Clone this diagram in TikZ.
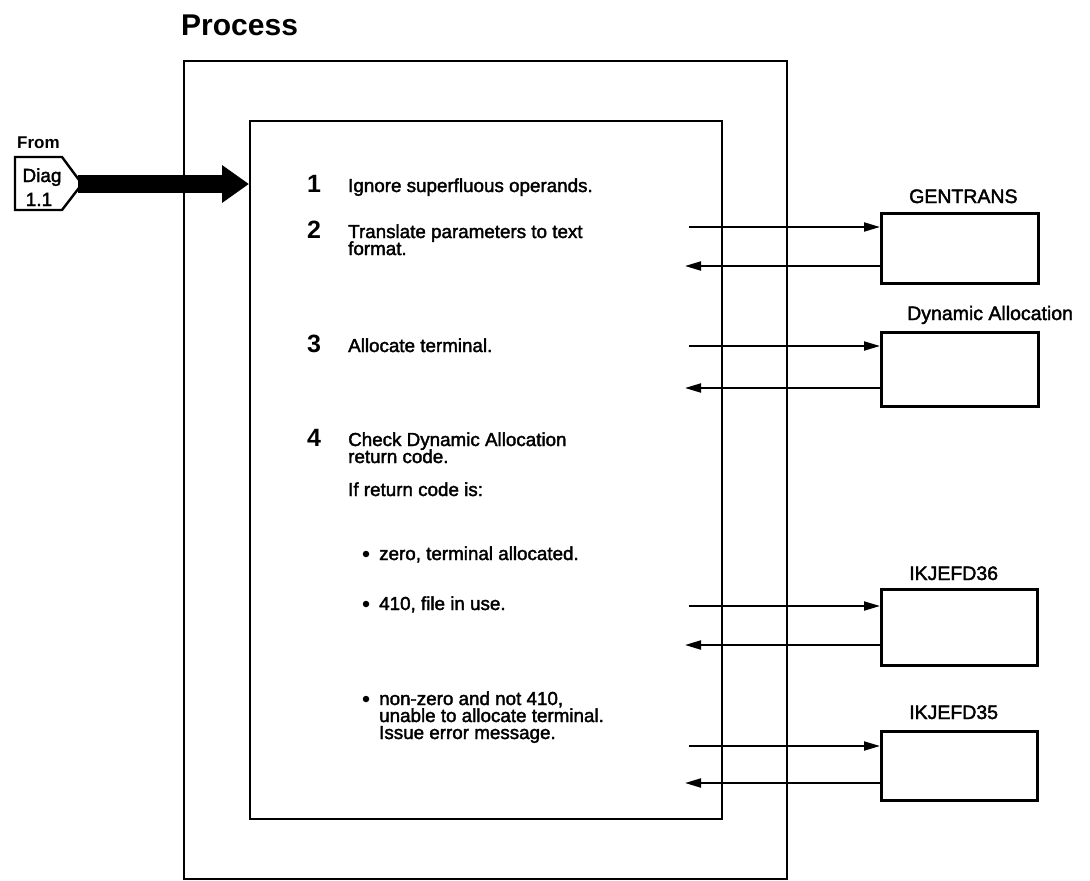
\documentclass[tikz,border=0pt]{standalone}
\usepackage{fontspec}
\setmainfont{Liberation Sans}
\newfontfamily\bodyfont{Liberation Sans}[FakeBold=2]
\usetikzlibrary{arrows.meta}

\tikzset{
  frame/.style={draw, line width=2.4pt, inner sep=0pt},
  modbox/.style={draw, line width=2.6pt, inner sep=0pt, anchor=north west},
  bodytext/.style={font=\bodyfont\fontsize{18.8}{22}\selectfont, anchor=base west, inner sep=0pt},
  stepnum/.style={font=\bfseries\fontsize{25}{28}\selectfont, anchor=base west, inner sep=0pt},
  modlabel/.style={font=\bodyfont\fontsize{19.5}{22}\selectfont, anchor=base west, inner sep=0pt},
  flow/.style={line width=2pt, -{Triangle[length=16pt,width=9pt]}},
  bigflow/.style={line width=18pt, -{Triangle[length=27pt,width=36pt]}},
  dot/.style={circle, fill, inner sep=0pt, minimum size=6.5pt}
}

\begin{document}
\begin{tikzpicture}[x=1pt,y=-1pt]
\useasboundingbox (0,0) rectangle (1090,881);

% heading
\node[font=\bfseries\fontsize{30}{32}\selectfont, anchor=base west, inner sep=0pt] (title) at (181,35) {Process};

% outer and inner process frames
\node[frame, anchor=north west, minimum width=603pt, minimum height=818pt] (outer) at (183,60) {};
\node[frame, anchor=north west, minimum width=472pt, minimum height=698pt] (inner) at (249,120) {};

% off-page connector
\node[font=\bfseries\fontsize{17}{20}\selectfont, anchor=base west, inner sep=0pt] (fromlbl) at (17,148) {From};
\draw[line width=2.4pt, line join=miter] (15,157) -- (62,157) -- (82,184) -- (62,210) -- (15,210) -- cycle;
\coordinate (tagtip) at (78,184);
\node[font=\bodyfont\fontsize{19}{20}\selectfont, anchor=base, inner sep=0pt] (diag) at (42,182) {Diag};
\node[font=\bodyfont\fontsize{19}{20}\selectfont, anchor=base, inner sep=0pt] (diagno) at (39,206) {1.1};
\draw[bigflow] (tagtip) -- (inner.west |- tagtip);

% steps
\node[stepnum] (n1) at (307,192) {1};
\node[bodytext] (t1) at (348,192) {Ignore superfluous operands.};
\node[stepnum] (n2) at (307,238) {2};
\node[bodytext] (t2a) at (348,238) {Translate parameters to text};
\node[bodytext] (t2b) at (348,255) {format.};
\node[stepnum] (n3) at (307,352) {3};
\node[bodytext] (t3) at (348,352) {Allocate terminal.};
\node[stepnum] (n4) at (307,446) {4};
\node[bodytext] (t4a) at (348,446) {Check Dynamic Allocation};
\node[bodytext] (t4b) at (348,463) {return code.};
\node[bodytext] (t4c) at (348,496) {If return code is:};
\node[dot] (b1) at (366,554) {};
\node[bodytext] (t4d) at (379,560) {zero, terminal allocated.};
\node[dot] (b2) at (366,604) {};
\node[bodytext] (t4e) at (379,610) {410, file in use.};
\node[dot] (b3) at (366,699) {};
\node[bodytext] (t4f) at (379,705) {non-zero and not 410,};
\node[bodytext] (t4g) at (379,722) {unable to allocate terminal.};
\node[bodytext] (t4h) at (379,739) {Issue error message.};

% called modules
\node[modbox, minimum width=157pt, minimum height=70pt] (gen) at (880,212) {};
\node[modlabel] (genlbl) at (909,203) {GENTRANS};
\node[modbox, minimum width=157pt, minimum height=74pt] (dyn) at (880,331) {};
\node[modlabel] (dynlbl) at (907,320) {Dynamic Allocation};
\node[modbox, minimum width=156pt, minimum height=76pt] (d36) at (880,588) {};
\node[modlabel] (d36lbl) at (909,580) {IKJEFD36};
\node[modbox, minimum width=156pt, minimum height=69pt] (d35) at (880,730) {};
\node[modlabel] (d35lbl) at (909,719) {IKJEFD35};

% calls and returns
\coordinate (genin) at (689,227);
\coordinate (genout) at (685,266);
\coordinate (dynin) at (689,346);
\coordinate (dynout) at (685,388);
\coordinate (d36in) at (689,606);
\coordinate (d36out) at (685,645);
\coordinate (d35in) at (689,746);
\coordinate (d35out) at (685,783);

\draw[flow] (genin) -- (gen.west |- genin);
\draw[flow] (gen.west |- genout) -- (genout);
\draw[flow] (dynin) -- (dyn.west |- dynin);
\draw[flow] (dyn.west |- dynout) -- (dynout);
\draw[flow] (d36in) -- (d36.west |- d36in);
\draw[flow] (d36.west |- d36out) -- (d36out);
\draw[flow] (d35in) -- (d35.west |- d35in);
\draw[flow] (d35.west |- d35out) -- (d35out);
\end{tikzpicture}
\end{document}
